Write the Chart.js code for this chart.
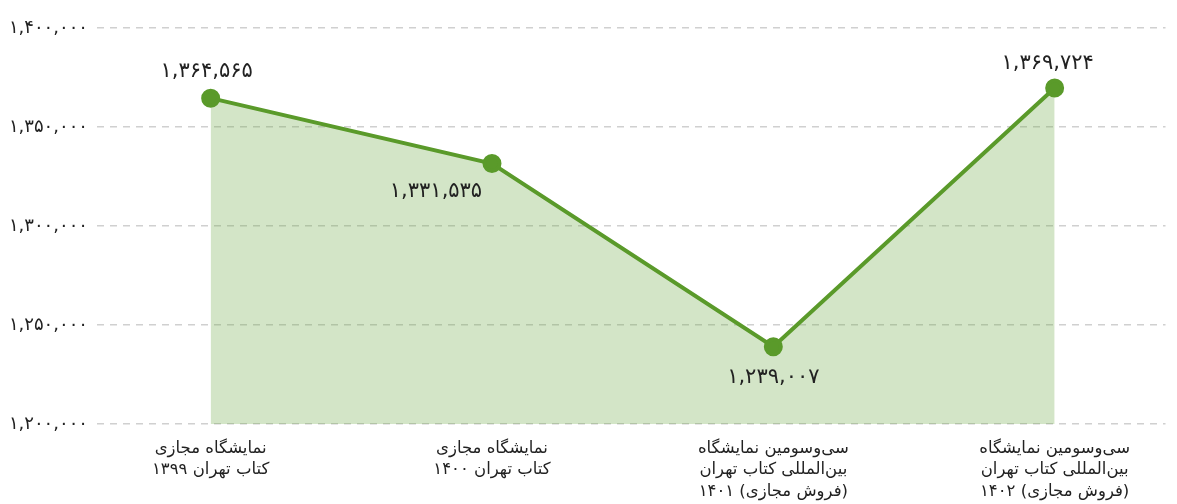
<!DOCTYPE html>
<html lang="fa">
<head>
<meta charset="utf-8">
<script src="https://cdn.jsdelivr.net/npm/chart.js@4.4.1/dist/chart.umd.min.js"></script>
<style>
  html, body { margin: 0; padding: 0; background: #fff; overflow: hidden; }
</style>
</head>
<body>
<canvas id="myChart" dir="rtl" width="1177" height="504"></canvas>
<script>
// data
const categories = [
    ['نمایشگاه مجازی', 'کتاب تهران ۱۳۹۹'],
    ['نمایشگاه مجازی', 'کتاب تهران ۱۴۰۰'],
    ['سی‌وسومین نمایشگاه', 'بین‌المللی کتاب تهران', '(فروش مجازی) ۱۴۰۱'],
    ['سی‌وسومین نمایشگاه', 'بین‌المللی کتاب تهران', '(فروش مجازی) ۱۴۰۲']
]
const visitors = [1364565, 1331535, 1239007, 1369724]
const yTicks = [1200000, 1250000, 1300000, 1350000, 1400000]

// where each value label sits relative to its point
const labelOffsets = [[-4, -27], [-56, 28], [0, 31], [-7, -24]]

const green = '#5a9a2a'
const fontFamily = '"DejaVu Sans", sans-serif'

// number -> persian digits with comma separators
function faNum(v) {
    return String(v)
        .replace(/\B(?=(\d{3})+(?!\d))/g, ',')
        .replace(/\d/g, d => '۰۱۲۳۴۵۶۷۸۹'[d])
}

// draws the value labels next to the points
const valueLabels = {
    id: 'valueLabels',
    afterDatasetsDraw(chart) {
        const ctx = chart.ctx
        const meta = chart.getDatasetMeta(0)
        ctx.save()
        ctx.font = '21px ' + fontFamily
        ctx.fillStyle = '#222'
        ctx.textAlign = 'center'
        ctx.textBaseline = 'middle'
        meta.data.forEach((pt, i) => {
            const off = labelOffsets[i]
            ctx.fillText(faNum(visitors[i]), pt.x + off[0], pt.y + off[1])
        })
        ctx.restore()
    }
}

// config
const config = {
    type: 'line',
    data: {
        datasets: [{
            data: visitors.map((v, i) => ({ x: i, y: v })),
            borderColor: green,
            backgroundColor: 'rgba(110, 170, 70, 0.3)',
            pointBackgroundColor: green,
            pointBorderColor: green,
            pointRadius: 7.5,
            borderWidth: 4,
            fill: 'start',
            tension: 0
        }]
    },
    plugins: [valueLabels],
    options: {
        responsive: false,
        animation: false,
        layout: { padding: { top: 28, right: 0, left: 0, bottom: 0 } },
        plugins: {
            legend: { display: false },
            tooltip: { enabled: false }
        },
        scales: {
            x: {
                type: 'linear',
                min: -0.404,
                max: 3.394,
                afterBuildTicks: axis => {
                    axis.ticks = categories.map((c, i) => ({ value: i }))
                },
                afterFit: axis => {
                    axis.height = 80
                    axis.paddingLeft = 0
                    axis.paddingRight = 0
                },
                grid: { display: false },
                border: { display: false },
                ticks: {
                    autoSkip: false,
                    maxRotation: 0,
                    padding: 6,
                    color: '#222',
                    font: { size: 16.5, family: fontFamily, lineHeight: 1.3 },
                    callback: v => categories[v]
                }
            },
            y: {
                min: 1200000,
                max: 1400000,
                afterBuildTicks: axis => {
                    axis.ticks = yTicks.map(v => ({ value: v }))
                },
                afterFit: axis => { axis.width = 97 },
                grid: {
                    color: '#d0d0d0',
                    lineWidth: 1.5,
                    drawTicks: false
                },
                border: { display: false, dash: [7, 6] },
                ticks: {
                    padding: 9,
                    color: '#222',
                    font: { size: 18, family: fontFamily },
                    callback: v => faNum(v)
                }
            }
        }
    }
}

// render
const myChart = new Chart(document.getElementById('myChart'), config)
</script>
</body>
</html>
